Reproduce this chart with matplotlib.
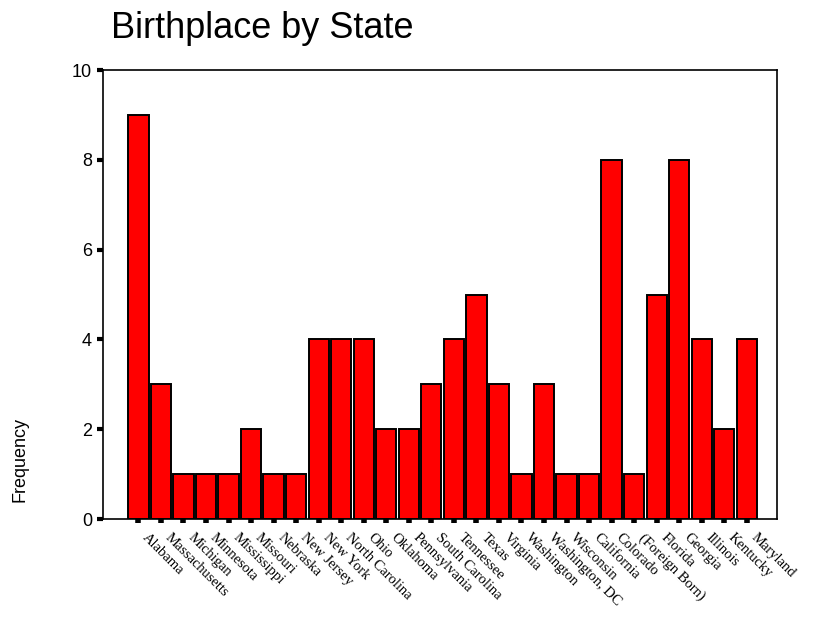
import matplotlib.pyplot as plt
import matplotlib.transforms as mtransforms
import numpy as np

# Birthplace counts
states = ['Alabama', 'Massachusetts', 'Michigan', 'Minnesota', 'Mississippi',
          'Missouri', 'Nebraska', 'New Jersey', 'New York', 'North Carolina',
          'Ohio', 'Oklahoma', 'Pennsylvania', 'South Carolina', 'Tennessee',
          'Texas', 'Virginia', 'Washington', 'Washington, DC', 'Wisconsin',
          'California', 'Colorado', '(Foreign Born)', 'Florida', 'Georgia',
          'Illinois', 'Kentucky', 'Maryland']
counts = [9, 3, 1, 1, 1, 2, 1, 1, 4, 4, 4, 2, 2, 3, 4, 5, 3, 1, 3, 1,
          1, 8, 1, 5, 8, 4, 2, 4]

fig = plt.figure(figsize=(8.13, 6.17), dpi=100)
ax = fig.add_axes([0.1267, 0.1588, 0.829, 0.7277])

x = np.arange(len(states))
ax.bar(x, counts, width=0.9, color='#ff0000', edgecolor='black', linewidth=1.4)

ax.set_xlim(-1.57, len(states) - 1 + 0.84 + 0.5)
ax.set_ylim(0, 10)
ax.set_yticks([0, 2, 4, 6, 8, 10])
ax.set_xticks(x)
ax.set_xticklabels(states, rotation=-45, ha='left', va='top',
                   rotation_mode='anchor', family='Liberation Serif', fontsize=10.5)
ax.tick_params(axis='x', direction='out', length=3, width=4, pad=8)
ax.tick_params(axis='y', direction='out', length=4, width=3, pad=4,
               labelsize=13)
for lbl in ax.get_yticklabels():
    lbl.set_family('Liberation Sans')

# nudge the slanted state names right of their ticks
shift = mtransforms.ScaledTranslation(11 / 100, 3 / 100, fig.dpi_scale_trans)
for lbl in ax.get_xticklabels():
    lbl.set_transform(lbl.get_transform() + shift)

for sp in ax.spines.values():
    sp.set_linewidth(1.2)

fig.text(0.136, 0.9384, 'Birthplace by State', family='Liberation Sans',
         fontsize=26, ha='left', va='baseline')
fig.text(0.025, 0.255, 'Frequency', family='Liberation Sans', fontsize=13,
         rotation=90, ha='center', va='center')

fig.savefig('out.png', dpi=100)
